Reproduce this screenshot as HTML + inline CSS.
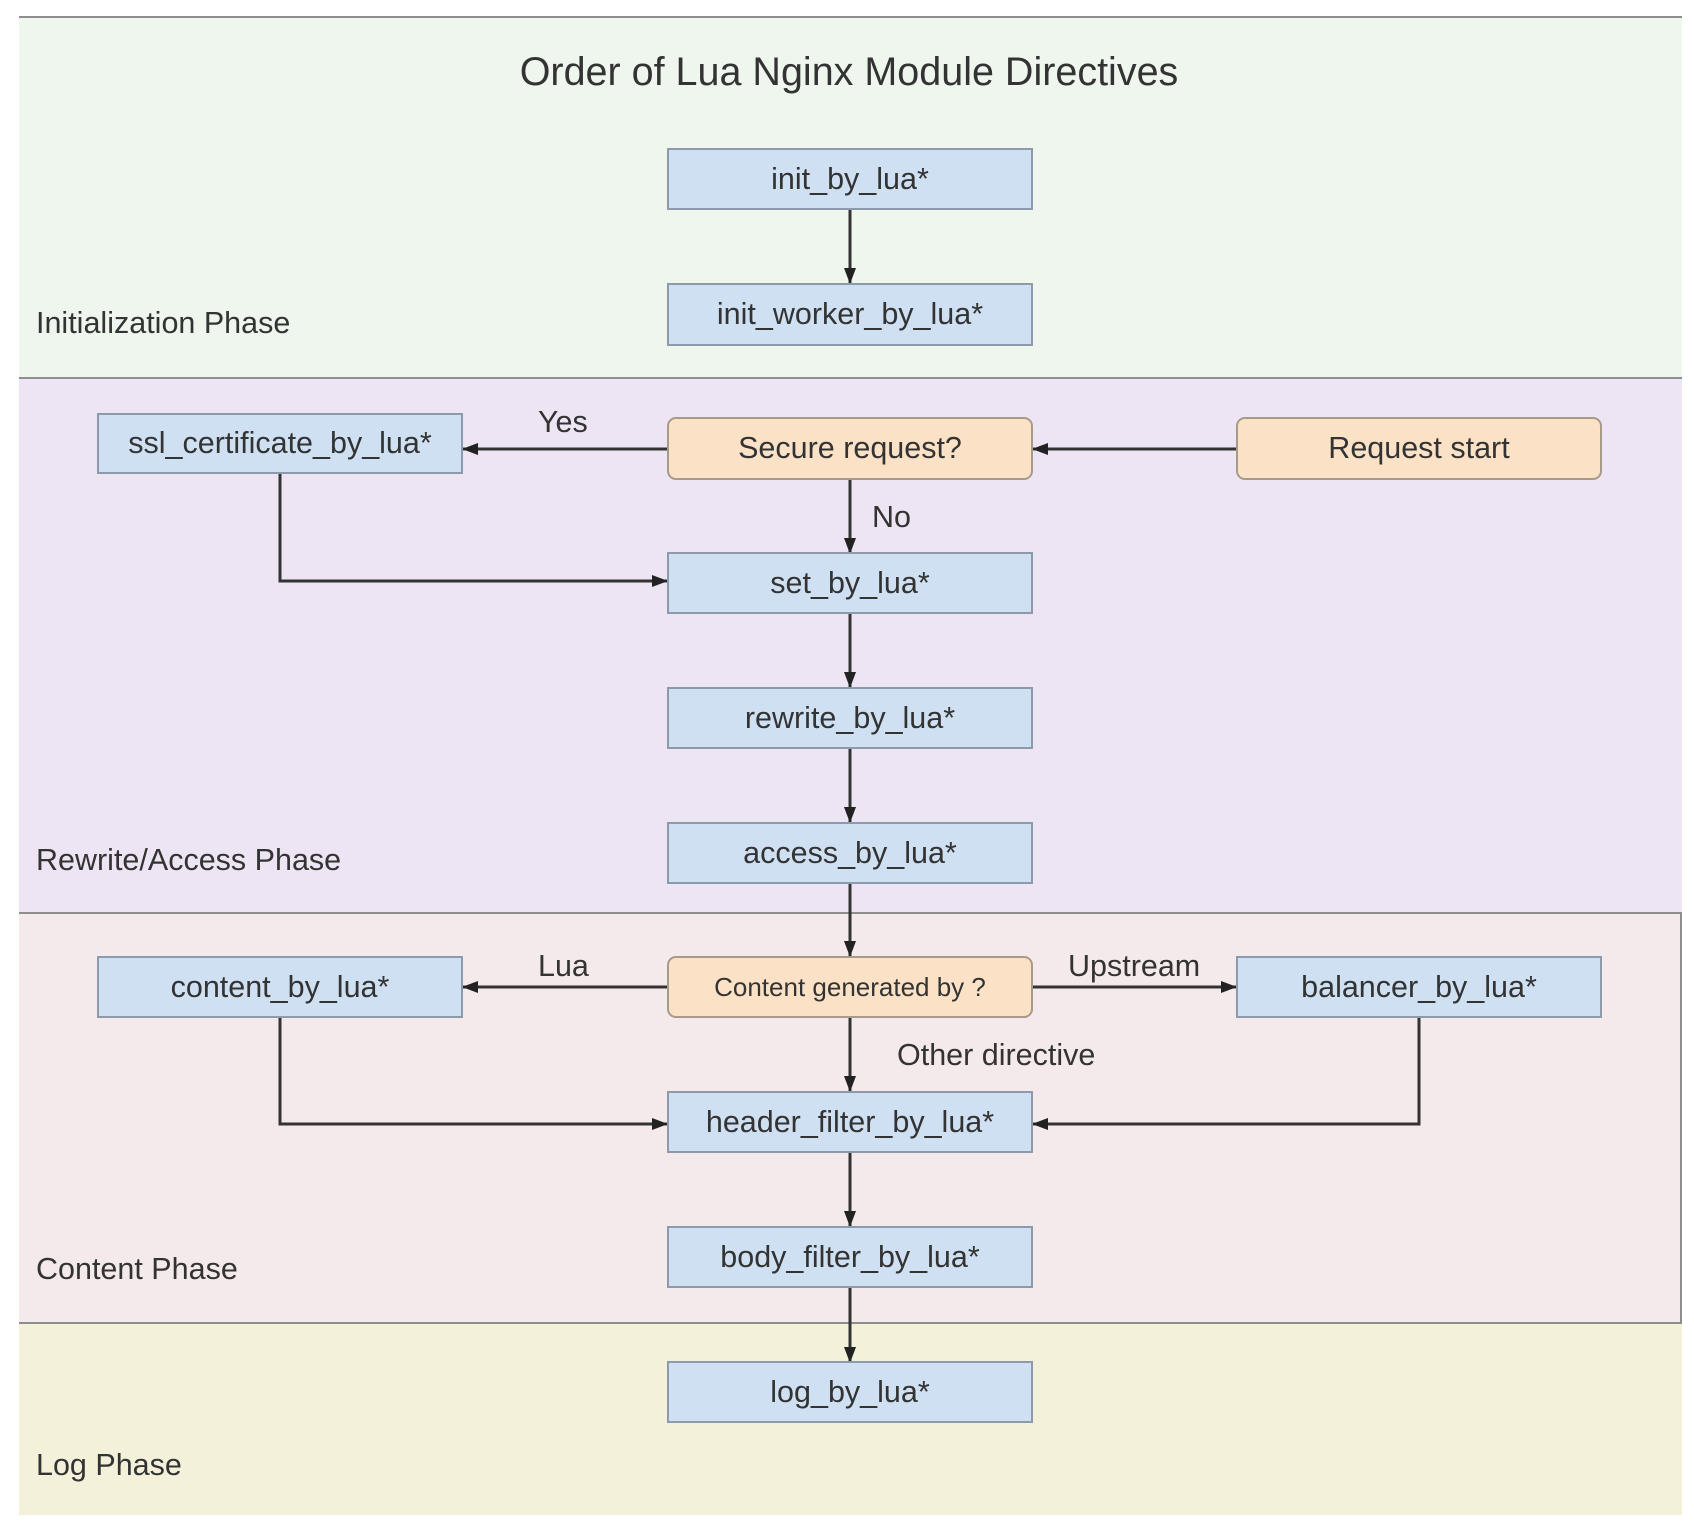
<!DOCTYPE html>
<html><head><meta charset="utf-8"><style>
html,body{margin:0;padding:0;background:#fff;}
body{width:1694px;height:1528px;position:relative;overflow:hidden;font-family:"Liberation Sans",sans-serif;}
.p{position:absolute;left:19px;width:1663px;border-top:2px solid #8e8e8e;}
.b{position:absolute;box-sizing:border-box;display:flex;align-items:center;justify-content:center;font-size:30.5px;color:#333;border:2px solid #8d9aab;background:#cfe0f2;}
.o{background:#fbe2c6;border-color:#a89a88;border-radius:9px;}
.l{position:absolute;font-size:30.5px;color:#333;white-space:nowrap;}
</style></head><body>
<div class="p" style="top:16px;height:362px;background:#eef6ee;"></div>
<div class="p" style="top:377px;height:536px;background:#ede5f3;"></div>
<div class="p" style="top:912px;height:410px;background:#f5eaeb;border-right:2px solid #8e8e8e;width:1661px;"></div>
<div class="p" style="top:1322px;height:191px;background:#f4f1db;"></div>

<div class="l" style="left:0;width:1694px;text-align:center;top:50px;font-size:39.5px;margin-left:2px;">Order of Lua Nginx Module Directives</div>
<div class="l" style="left:36px;top:306px;">Initialization Phase</div>
<div class="l" style="left:36px;top:843px;">Rewrite/Access Phase</div>
<div class="l" style="left:36px;top:1252px;">Content Phase</div>
<div class="l" style="left:36px;top:1448px;">Log Phase</div>

<svg style="position:absolute;left:0;top:0" width="1694" height="1528">
<defs><marker id="c" markerWidth="16" markerHeight="12" refX="15" refY="6" orient="auto" markerUnits="userSpaceOnUse" viewBox="0 0 16 12"><path d="M0,0L16,6L0,12z" fill="#222"/></marker></defs>
<g stroke="#333" stroke-width="3" fill="none" marker-end="url(#c)">
<path d="M850,209V283"/>
<path d="M850,480V553"/>
<path d="M850,613V687"/>
<path d="M850,749V822"/>
<path d="M850,884V956"/>
<path d="M850,1017V1091"/>
<path d="M850,1153V1226"/>
<path d="M850,1287V1362"/>
<path d="M667,449H463"/>
<path d="M1236,449H1033"/>
<path d="M280,473V581H667"/>
<path d="M667,987H463"/>
<path d="M1032,987H1236"/>
<path d="M280,1017V1124H667"/>
<path d="M1419,1017V1124H1033"/>
</g></svg>

<div class="b" style="left:667px;top:148px;width:366px;height:62px;">init_by_lua*</div>
<div class="b" style="left:667px;top:283px;width:366px;height:63px;">init_worker_by_lua*</div>
<div class="b" style="left:97px;top:413px;width:366px;height:61px;">ssl_certificate_by_lua*</div>
<div class="b o" style="left:667px;top:417px;width:366px;height:63px;">Secure request?</div>
<div class="b o" style="left:1236px;top:417px;width:366px;height:63px;">Request start</div>
<div class="b" style="left:667px;top:552px;width:366px;height:62px;">set_by_lua*</div>
<div class="b" style="left:667px;top:687px;width:366px;height:62px;">rewrite_by_lua*</div>
<div class="b" style="left:667px;top:822px;width:366px;height:62px;">access_by_lua*</div>
<div class="b" style="left:97px;top:956px;width:366px;height:62px;">content_by_lua*</div>
<div class="b o" style="left:667px;top:956px;width:366px;height:62px;font-size:26px;">Content generated by ?</div>
<div class="b" style="left:1236px;top:956px;width:366px;height:62px;">balancer_by_lua*</div>
<div class="b" style="left:667px;top:1091px;width:366px;height:62px;">header_filter_by_lua*</div>
<div class="b" style="left:667px;top:1226px;width:366px;height:62px;">body_filter_by_lua*</div>
<div class="b" style="left:667px;top:1361px;width:366px;height:62px;">log_by_lua*</div>

<div class="l" style="left:538px;top:405px;">Yes</div>
<div class="l" style="left:872px;top:500px;">No</div>
<div class="l" style="left:538px;top:949px;">Lua</div>
<div class="l" style="left:1068px;top:949px;">Upstream</div>
<div class="l" style="left:897px;top:1038px;">Other directive</div>
</body></html>
